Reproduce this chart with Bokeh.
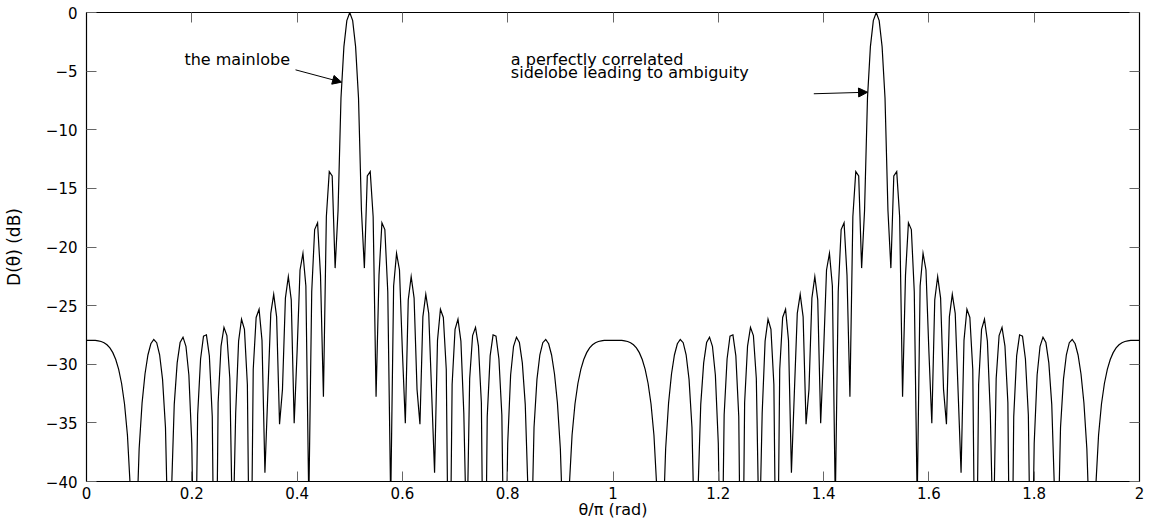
from bokeh.plotting import figure
from bokeh.models import Range1d, LinearAxis, FixedTicker, Label, Arrow, NormalHead
from bokeh.embed import file_html
from bokeh.resources import INLINE

# Beampattern D(theta) in dB, one sample per degree over the first quadrant
# (0..90 degrees). The pattern repeats mirror-wise about 90 and 180 degrees.
quarter_deg = list(range(0, 91))
quarter_db = [
    -27.96, -27.96, -27.96, -27.97, -28.00, -28.06, -28.16, -28.34, -28.61, -29.01,
    -29.60, -30.44, -31.64, -33.39, -36.05, -40.69, -54.05, -44.73, -37.20, -33.30,
    -30.83, -29.21, -28.25, -27.89, -28.16, -29.19, -31.29, -35.39, -46.56, -41.36,
    -33.42, -29.88, -28.15, -27.69, -28.47, -30.91, -36.76, -52.94, -34.33, -29.55,
    -27.61, -27.49, -29.29, -34.47, -58.81, -33.29, -28.45, -26.85, -27.55, -31.21,
    -45.74, -34.20, -28.03, -26.16, -27.03, -31.72, -55.67, -30.44, -26.01, -25.31,
    -27.96, -39.26, -32.43, -25.66, -24.04, -25.96, -35.12, -32.14, -24.36, -22.52,
    -24.51, -35.03, -28.91, -21.96, -20.54, -23.33, -41.80, -23.82, -18.51, -17.94,
    -22.40, -32.78, -17.42, -13.57, -13.94, -21.80, -16.88, -7.31, -2.91, -0.69,
    0.00,
]

# full sweep 0..360 degrees, built from the first quadrant by symmetry
theta_deg = list(range(0, 361))
level_db = []
for d in theta_deg:
    r = d % 180
    level_db.append(quarter_db[r if r <= 90 else 180 - r])
theta_over_pi = [d / 180 for d in theta_deg]

x_ticks = [0, 0.2, 0.4, 0.6, 0.8, 1.0, 1.2, 1.4, 1.6, 1.8, 2.0]
x_tick_labels = ["0", "0.2", "0.4", "0.6", "0.8", "1", "1.2", "1.4", "1.6", "1.8", "2"]
y_ticks = [-40, -35, -30, -25, -20, -15, -10, -5, 0]
y_tick_labels = ["\u221240", "\u221235", "\u221230", "\u221225", "\u221220",
                 "\u221215", "\u221210", "\u22125", "0"]

FONT = "DejaVu Sans"

p = figure(width=1151, height=523, output_backend="svg", toolbar_location=None,
           x_range=Range1d(0, 2), y_range=Range1d(-40, 0),
           min_border_left=86, min_border_right=12,
           min_border_top=12, min_border_bottom=42,
           x_axis_label="\u03b8/\u03c0 (rad)", y_axis_label="D(\u03b8) (dB)")
p.grid.visible = False
p.outline_line_color = "black"
p.outline_line_width = 1
p.background_fill_color = "white"
p.border_fill_color = "white"

p.line(theta_over_pi, level_db, line_color="black", line_width=1.2,
       line_join="miter")

bottom_axis = p.below[0]
left_axis = p.left[0]

# companion axes on the top and right carry inward ticks only
top_axis = LinearAxis()
right_axis = LinearAxis()
p.add_layout(top_axis, "above")
p.add_layout(right_axis, "right")

for ax in (bottom_axis, top_axis):
    ax.ticker = FixedTicker(ticks=x_ticks)
    ax.major_label_overrides = dict(zip(x_ticks, x_tick_labels))
for ax in (left_axis, right_axis):
    ax.ticker = FixedTicker(ticks=y_ticks)
    ax.major_label_overrides = dict(zip(y_ticks, y_tick_labels))

for ax in (bottom_axis, top_axis, left_axis, right_axis):
    ax.axis_line_color = "black"
    ax.axis_line_width = 1.2
    ax.major_tick_in = 10
    ax.major_tick_out = 0
    ax.major_tick_line_color = "#666666"
    ax.major_tick_line_width = 1
    ax.minor_tick_line_color = None
    ax.major_label_text_font = FONT
    ax.major_label_text_font_size = "15px"
    ax.major_label_text_color = "black"
    ax.axis_label_text_font = FONT
    ax.axis_label_text_font_size = "16px"
    ax.axis_label_text_font_style = "normal"
    ax.axis_label_text_color = "black"

bottom_axis.major_label_standoff = 5
bottom_axis.axis_label_standoff = -2
left_axis.major_label_standoff = 9
left_axis.axis_label_standoff = 19
left_axis.axis_label_text_font_size = "17px"

for ax in (top_axis, right_axis):
    ax.major_label_text_alpha = 0
    ax.major_label_text_color = None
    ax.major_label_text_font_size = "0px"
    ax.major_label_standoff = 0
    ax.axis_label = None

# annotations
p.add_layout(Label(x=0.186, y=-4.04, text="the mainlobe", text_font=FONT,
                   text_font_size="16px", text_color="black",
                   text_baseline="alphabetic", text_align="left"))
p.add_layout(Arrow(x_start=0.397, y_start=-4.89, x_end=0.4845, y_end=-5.94,
                   line_color="black", line_width=1,
                   end=NormalHead(size=9, fill_color="black", line_color="black")))

p.add_layout(Label(x=0.806, y=-4.02, text="a perfectly correlated", text_font=FONT,
                   text_font_size="16px", text_color="black",
                   text_baseline="alphabetic", text_align="left"))
p.add_layout(Label(x=0.806, y=-5.15, text="sidelobe leading to ambiguity",
                   text_font=FONT, text_font_size="16px", text_color="black",
                   text_baseline="alphabetic", text_align="left"))
p.add_layout(Arrow(x_start=1.3814, y_start=-6.93, x_end=1.4835, y_end=-6.80,
                   line_color="black", line_width=1,
                   end=NormalHead(size=9, fill_color="black", line_color="black")))

open("out.html", "w").write(file_html(p, INLINE))
